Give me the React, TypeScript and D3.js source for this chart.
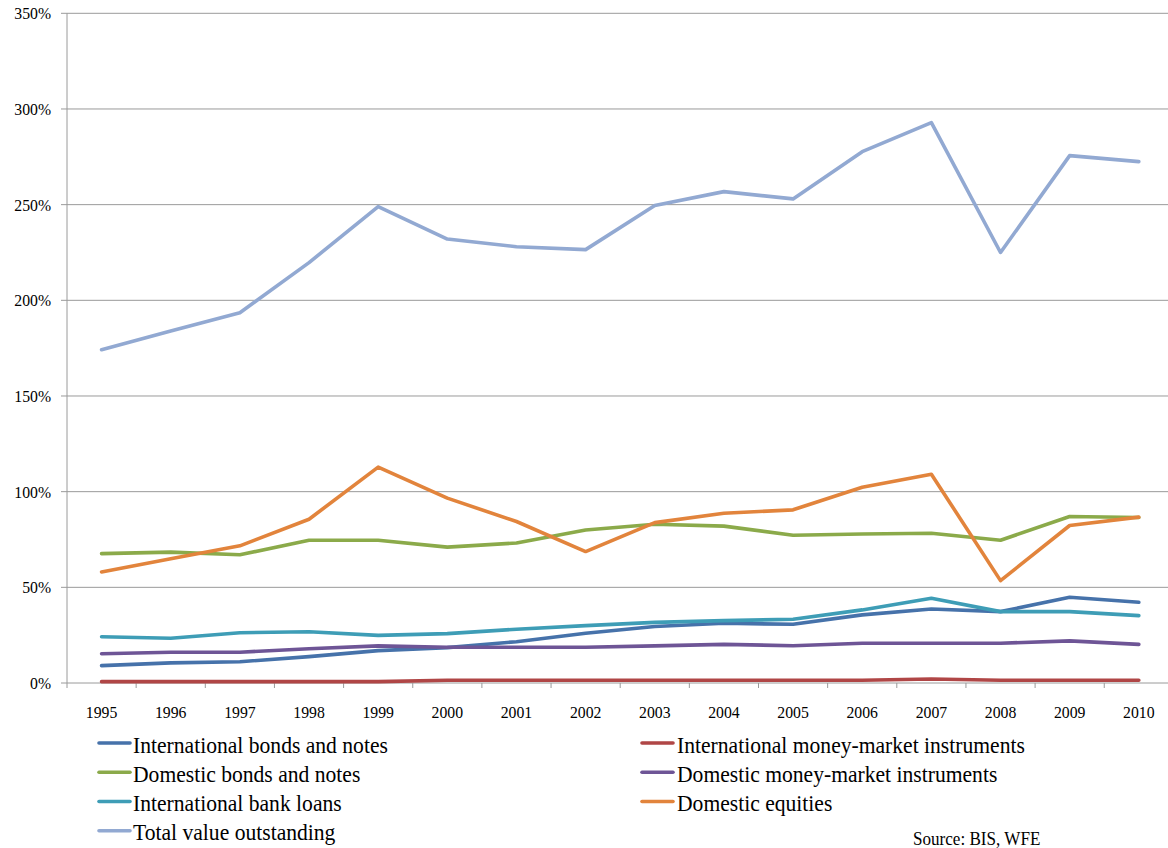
import React from "react";
import * as d3 from "d3";

const years = ["1995","1996","1997","1998","1999","2000","2001","2002","2003","2004","2005","2006","2007","2008","2009","2010"];
const yTicks = [0, 50, 100, 150, 200, 250, 300, 350];

const intlBonds = [9.1, 10.5, 11.1, 13.8, 16.9, 18.5, 21.6, 26, 29.5, 31.2, 30.7, 35.6, 38.7, 37.3, 44.8, 42.2];
const intlMoney = [0.7, 0.7, 0.7, 0.7, 0.7, 1.4, 1.4, 1.4, 1.4, 1.4, 1.4, 1.4, 2.1, 1.4, 1.4, 1.4];
const domBonds = [67.6, 68.4, 67, 74.6, 74.6, 71, 73.2, 80, 83, 82, 77.2, 77.9, 78.3, 74.6, 87, 86.5];
const domMoney = [15.3, 16.1, 16.1, 17.9, 19.4, 18.7, 18.7, 18.7, 19.4, 20.2, 19.5, 20.8, 20.8, 20.8, 22, 20.2];
const intlLoans = [24.2, 23.4, 26.3, 26.8, 24.9, 25.8, 28.1, 30, 31.7, 32.6, 33.3, 38.2, 44.3, 37.3, 37.3, 35.2];
const domEquities = [58, 64.9, 71.7, 85.6, 112.8, 96.6, 84.4, 68.7, 83.8, 88.7, 90.5, 102.3, 109.1, 53.5, 82.3, 86.7];
const total = [174.2, 184, 193.5, 219.7, 249, 232, 228, 226.5, 249.5, 256.8, 253, 277.7, 292.9, 225, 275.6, 272.5];

const series = [
  { name: "International bonds and notes", values: intlBonds, color: "#4672AA" },
  { name: "International money-market instruments", values: intlMoney, color: "#B04646" },
  { name: "Domestic bonds and notes", values: domBonds, color: "#8BAA4A" },
  { name: "Domestic money-market instruments", values: domMoney, color: "#6E5596" },
  { name: "International bank loans", values: intlLoans, color: "#3E9DB6" },
  { name: "Domestic equities", values: domEquities, color: "#E2843C" },
  { name: "Total value outstanding", values: total, color: "#92A9D2" },
];
const drawOrder = [6, 0, 2, 4, 1, 3, 5];

const W = 1168, H = 848;
const left = 67, top = 13.3, bottom = 683;
const step = 69.15;
const right = left + step * years.length;

const FONT = "Liberation Serif, DejaVu Serif, Times New Roman, serif";

export default function App() {
  const x = d3.scaleBand<string>().domain(years).range([left, right]);
  const y = d3.scaleLinear().domain([0, 350]).range([bottom, top]);
  const line = d3.line<number>()
    .x((_, i) => (x(years[i]) as number) + x.bandwidth() / 2)
    .y((v) => y(v));
  const grid = "#9A9A9A";

  const legendLeft = [0, 2, 4, 6];
  const legendRight = [1, 3, 5];
  const rowY = [752.5, 781.8, 811, 840.3];

  const txt = (tx: number, ty: number, s: string, size: number, anchor: string) => (
    <text transform={`translate(${tx},${ty}) scale(0.9,1)`} style={{ fontFamily: FONT, fontSize: size }} textAnchor={anchor} fill="#000">{s}</text>
  );

  return (
    <svg width={W} height={H} style={{ position: "absolute", left: 0, top: 0, background: "#fff" }}>
      {yTicks.map((t) => (
        <g key={t}>
          <line x1={61} x2={right} y1={y(t)} y2={y(t)} stroke={grid} strokeWidth={1} />
          {txt(51, y(t) + 6, `${t}%`, 17.5, "end")}
        </g>
      ))}
      <line x1={left} x2={left} y1={top} y2={bottom + 5} stroke={grid} strokeWidth={1} />
      {years.map((yr) => (
        <g key={yr}>
          <line x1={(x(yr) as number) + step} x2={(x(yr) as number) + step} y1={bottom} y2={bottom + 5} stroke={grid} strokeWidth={1} />
          {txt((x(yr) as number) + step / 2, 718, yr, 17.5, "middle")}
        </g>
      ))}
      {drawOrder.map((k) => (
        <path key={k} d={line(series[k].values) || ""} fill="none" stroke={series[k].color} strokeWidth={3.6} strokeLinejoin="round" strokeLinecap="round" />
      ))}
      {legendLeft.map((k, r) => (
        <g key={k}>
          <line x1={99} x2={130} y1={rowY[r] - 9.5} y2={rowY[r] - 9.5} stroke={series[k].color} strokeWidth={3.6} strokeLinecap="round" />
          {txt(133, rowY[r], series[k].name, 24, "start")}
        </g>
      ))}
      {legendRight.map((k, r) => (
        <g key={k}>
          <line x1={642} x2={673} y1={rowY[r] - 9.5} y2={rowY[r] - 9.5} stroke={series[k].color} strokeWidth={3.6} strokeLinecap="round" />
          {txt(677, rowY[r], series[k].name, 24, "start")}
        </g>
      ))}
      {txt(913, 845, "Source: BIS, WFE", 19, "start")}
    </svg>
  );
}
